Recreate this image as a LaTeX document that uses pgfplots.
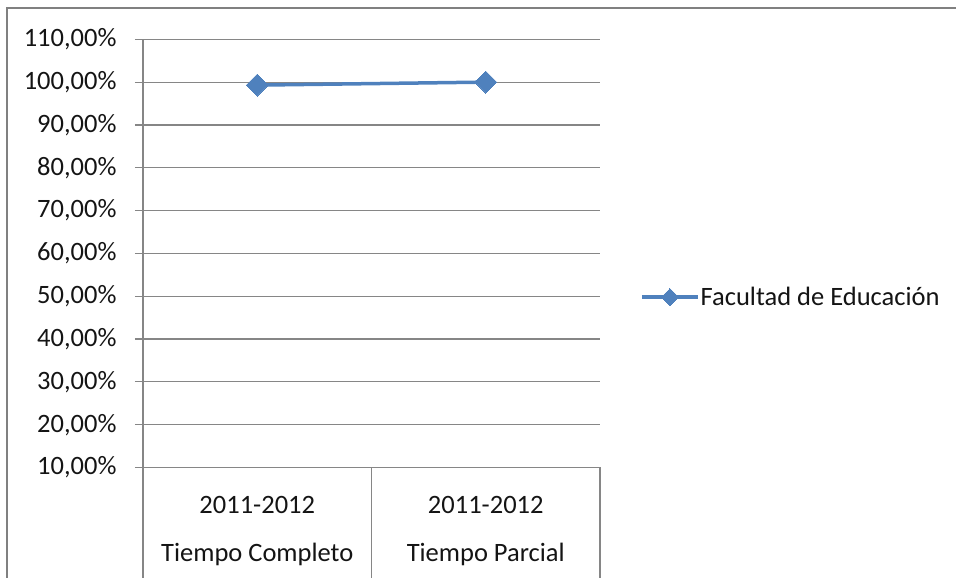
\documentclass[border=0pt]{standalone}
\usepackage{pgfplots}
\pgfplotsset{compat=1.18}
\usepackage{fontspec}
\setmainfont{Carlito}
\definecolor{exblue}{RGB}{79,129,189}
\definecolor{gridc}{RGB}{134,134,134}
\definecolor{framec}{RGB}{128,128,128}
\definecolor{txt}{RGB}{20,20,20}
\begin{document}
\begin{tikzpicture}[x=1pt,y=1pt]
\useasboundingbox (0,0) rectangle (956,578);
\draw[framec, line width=2pt] (7,0) -- (7,570) -- (957,570);
\begin{axis}[
  at={(143pt,110.5pt)}, anchor=south west, scale only axis,
  width=457pt, height=428.2pt,
  xmin=0, xmax=2, ymin=10, ymax=110,
  clip=false,
  axis x line=bottom, axis y line=left,
  axis line style={-, gridc, line width=1.2pt},
  x axis line style={draw=none},
  ymajorgrids, grid style={gridc, line width=1.2pt},
  ytick={10,20,...,110},
  yticklabels={{10,00\%},{20,00\%},{30,00\%},{40,00\%},{50,00\%},{60,00\%},{70,00\%},{80,00\%},{90,00\%},{100,00\%},{110,00\%}},
  ytick style={gridc, line width=1.2pt},
  major tick length=8pt, tick align=outside,
  xtick={0.5,1.5},
  xticklabels={{2011-2012\\[17pt]Tiempo Completo},{2011-2012\\[17pt]Tiempo Parcial}},
  xtick style={draw=none},
  xticklabel style={align=center, yshift=-17pt},
  yticklabel style={xshift=-15pt},
  tick label style={font=\fontsize{26.5}{31}\selectfont, text=txt},
  legend style={at={(1,0.398)}, anchor=west, xshift=40pt, draw=none, fill=none,
    inner sep=0pt, font=\fontsize{26.5}{31}\selectfont, text=txt,
    nodes={inner sep=1pt}},
  legend image code/.code={\draw[#1, mark repeat=2, mark phase=2, mark size=6pt] plot coordinates {(0pt,0pt)(28pt,0pt)(56pt,0pt)};},
]
\addplot[exblue, line width=3.5pt, mark=square*, mark size=7.8pt,
  mark options={rotate=45, solid, fill=exblue, draw=exblue, line width=0pt}]
  coordinates {(0.5,99.3) (1.5,100)};
\addlegendentry{Facultad de Educación}
\draw[gridc, line width=1.2pt] (axis cs:0,10) -- ++(0,-104.5pt);
\draw[gridc, line width=1.2pt] (axis cs:1,10) -- ++(0,-104.5pt);
\draw[gridc, line width=1.2pt] (axis cs:2,10) -- ++(0,-104.5pt);
\end{axis}
\end{tikzpicture}
\end{document}
